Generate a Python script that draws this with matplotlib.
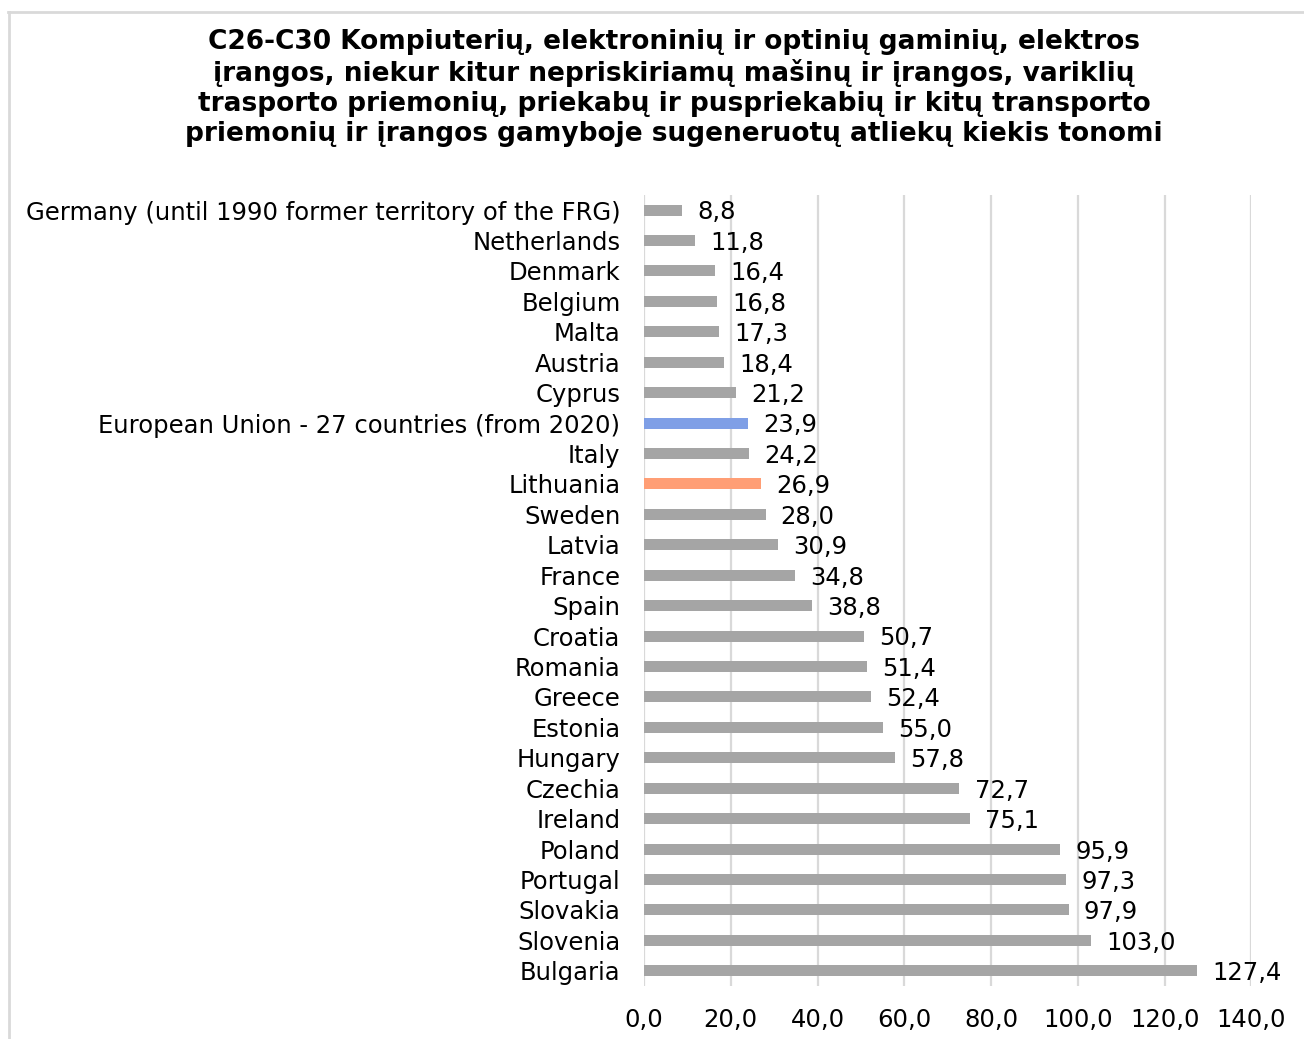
import matplotlib.pyplot as plt
from matplotlib.lines import Line2D

countries = [
    "Germany (until 1990 former territory of the FRG)", "Netherlands", "Denmark",
    "Belgium", "Malta", "Austria", "Cyprus",
    "European Union - 27 countries (from 2020)", "Italy", "Lithuania", "Sweden",
    "Latvia", "France", "Spain", "Croatia", "Romania", "Greece", "Estonia",
    "Hungary", "Czechia", "Ireland", "Poland", "Portugal", "Slovakia",
    "Slovenia", "Bulgaria",
]
values = [8.8, 11.8, 16.4, 16.8, 17.3, 18.4, 21.2, 23.9, 24.2, 26.9, 28.0,
          30.9, 34.8, 38.8, 50.7, 51.4, 52.4, 55.0, 57.8, 72.7, 75.1, 95.9,
          97.3, 97.9, 103.0, 127.4]
x_ticks = [0, 20, 40, 60, 80, 100, 120, 140]

title = ("C26-C30 Kompiuterių, elektroninių ir optinių gaminių, elektros\n"
         "įrangos, niekur kitur nepriskiriamų mašinų ir įrangos, variklių\n"
         "trasporto priemonių, priekabų ir puspriekabių ir kitų transporto\n"
         "priemonių ir įrangos gamyboje sugeneruotų atliekų kiekis tonomi")

GRAY = "#A5A5A5"
BLUE = "#7F9FE6"
ORANGE = "#FF9E75"
FS = 17.5


def bar_color(name):
    if name.startswith("European Union"):
        return BLUE
    if name == "Lithuania":
        return ORANGE
    return GRAY


def fmt(v):
    return f"{v:.1f}".replace(".", ",")


plt.rcParams["font.family"] = ["DejaVu Sans"]

fig = plt.figure(figsize=(13.04, 10.39), dpi=100)
ax = fig.add_axes([0.4939, 0.051, 0.9596 - 0.4939, 0.8125 - 0.051])

ypos = list(range(len(countries)))
ax.barh(ypos, values, height=0.36, color=[bar_color(c) for c in countries],
        zorder=3)
for y, v in zip(ypos, values):
    ax.text(v + 3.5, y + 0.08, fmt(v), va="center", ha="left", fontsize=FS,
            color="#000000", zorder=4)

ax.set_ylim(len(countries) - 0.5, -0.5)
ax.set_yticks(ypos)
ax.set_yticklabels(countries, fontsize=FS)
ax.set_xlim(0, 140)
ax.set_xticks(x_ticks)
ax.set_xticklabels([fmt(t) for t in x_ticks], fontsize=FS)
ax.tick_params(axis="both", length=0)
ax.tick_params(axis="y", pad=17)
ax.tick_params(axis="x", pad=16)
ax.grid(axis="x", color="#D9D9D9", linewidth=1.6, zorder=0)
for s in ax.spines.values():
    s.set_visible(False)

fig.text(0.517, 0.972, title, ha="center", va="top", fontsize=19,
         fontweight="bold", linespacing=1.2)

# outer chart border
fig.add_artist(Line2D([8 / 1304, 1], [1 - 12 / 1039] * 2, color="#D9D9D9",
                      linewidth=2, transform=fig.transFigure))
fig.add_artist(Line2D([9 / 1304] * 2, [0, 1 - 12 / 1039], color="#D9D9D9",
                      linewidth=2, transform=fig.transFigure))

fig.savefig("out.png", dpi=100)
